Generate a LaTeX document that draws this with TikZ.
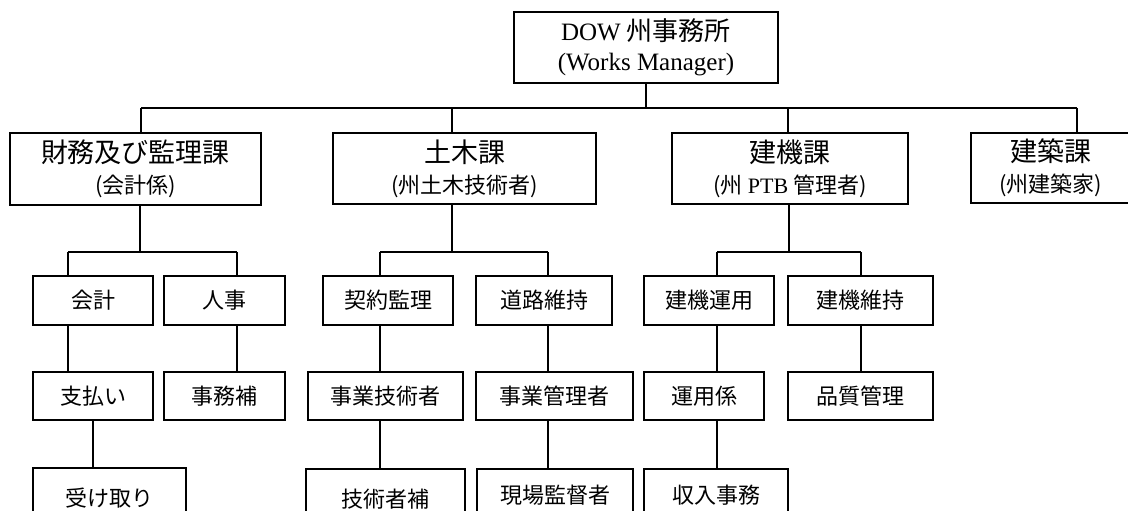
\documentclass[tikz,border=0pt]{standalone}
\usepackage{fontspec}
\setmainfont{Liberation Serif}
\newfontfamily\cjk{Noto Sans CJK JP}
\begin{document}
\begin{tikzpicture}[x=1pt,y=-1pt,
  box/.style={draw, line width=1.6pt, inner sep=0pt, align=center},
  conn/.style={line width=1.6pt},
  head/.style={font=\cjk\fontsize{27}{33}\selectfont},
  small/.style={font=\cjk\fontsize{22}{26}\selectfont},
]
\useasboundingbox (0,0) rectangle (1128,511);
% top
\node[box, minimum width=264pt, minimum height=71pt, font=\fontsize{25}{30}\selectfont] (top) at (646,47.5)
  {DOW {\cjk\fontsize{26}{30}\selectfont 州事務所}\\ (Works Manager)};
% level 1
\node[box, minimum width=251pt, minimum height=72pt, head] (fin) at (135.5,169)
  {財務及び監理課\\[-2pt]{\fontsize{22}{26}\selectfont (会計係)}};
\node[box, minimum width=263pt, minimum height=71pt, head] (civ) at (464.5,168.5)
  {土木課\\[-2pt]{\fontsize{22}{26}\selectfont (州土木技術者)}};
\node[box, minimum width=236pt, minimum height=71pt, head] (mech) at (790,168.5)
  {建機課\\[-2pt]{\fontsize{22}{26}\selectfont (州 {\rmfamily PTB} 管理者)}};
\node[box, minimum width=159pt, minimum height=70pt, head] (arch) at (1050.5,168)
  {建築課\\[-2pt]{\fontsize{22}{26}\selectfont (州建築家)}};
% level 2
\node[box, small, minimum width=120pt, minimum height=49pt] (acc) at (93,300.5) {会計};
\node[box, small, minimum width=121pt, minimum height=49pt] (hr) at (224.5,300.5) {人事};
\node[box, small, minimum width=130pt, minimum height=49pt] (con) at (388,300.5) {契約監理};
\node[box, small, minimum width=136pt, minimum height=49pt] (road) at (544,300.5) {道路維持};
\node[box, small, minimum width=130pt, minimum height=49pt] (mop) at (709,300.5) {建機運用};
\node[box, small, minimum width=145pt, minimum height=49pt] (mmt) at (860.5,300.5) {建機維持};
% level 3
\node[box, small, minimum width=120pt, minimum height=48pt] (pay) at (93,396) {支払い};
\node[box, small, minimum width=121pt, minimum height=48pt] (clerk) at (224.5,396) {事務補};
\node[box, small, minimum width=155pt, minimum height=48pt] (peng) at (385.5,396) {事業技術者};
\node[box, small, minimum width=157pt, minimum height=48pt] (pman) at (554.5,396) {事業管理者};
\node[box, small, minimum width=120pt, minimum height=48pt] (opc) at (704,396) {運用係};
\node[box, small, minimum width=145pt, minimum height=48pt] (qc) at (860.5,396) {品質管理};
% level 4 (cut by the page edge)
\node[box, small, minimum width=153pt, minimum height=60pt, anchor=north] (rec) at (109.5,467) {受け取り};
\node[box, small, minimum width=159pt, minimum height=60pt, anchor=north] (aeng) at (385.5,468) {技術者補};
\node[box, small, minimum width=156pt, minimum height=60pt, anchor=north] (sup) at (555,468) {\raisebox{10pt}{現場監督者}};
\node[box, small, minimum width=144pt, minimum height=60pt, anchor=north] (rev) at (716,468) {\raisebox{9pt}{収入事務}};
% main bus
\coordinate (hL) at (141,108);
\coordinate (hC) at (452,108);
\coordinate (hM) at (788,108);
\coordinate (hR) at (1077,108);
\draw[conn] (top.south) -- (top.south |- hL);
\draw[conn] (hL) -- (hR);
\draw[conn] (hL) -- (hL |- fin.north);
\draw[conn] (hC) -- (hC |- civ.north);
\draw[conn] (hM) -- (hM |- mech.north);
\draw[conn] (hR) -- (hR |- arch.north);
% finance
\coordinate (fM) at (140,252);
\coordinate (fA) at (68,252);
\coordinate (fB) at (237,252);
\draw[conn] (fM |- fin.south) -- (fM);
\draw[conn] (fA) -- (fB);
\draw[conn] (fA) -- (fA |- acc.north);
\draw[conn] (fB) -- (fB |- hr.north);
\draw[conn] (fA |- acc.south) -- (fA |- pay.north);
\draw[conn] (fB |- hr.south) -- (fB |- clerk.north);
\draw[conn] (pay.south) -- (pay.south |- rec.north);
% civil
\coordinate (cM) at (452,252);
\coordinate (cA) at (380,252);
\coordinate (cB) at (548,252);
\draw[conn] (cM |- civ.south) -- (cM);
\draw[conn] (cA) -- (cB);
\draw[conn] (cA) -- (cA |- con.north);
\draw[conn] (cB) -- (cB |- road.north);
\draw[conn] (cA |- con.south) -- (cA |- peng.north);
\draw[conn] (cB |- road.south) -- (cB |- pman.north);
\draw[conn] (cA |- peng.south) -- (cA |- aeng.north);
\draw[conn] (cB |- pman.south) -- (cB |- sup.north);
% mechanical
\coordinate (mM) at (789,252);
\coordinate (mA) at (717,252);
\coordinate (mB) at (861,252);
\draw[conn] (mM |- mech.south) -- (mM);
\draw[conn] (mA) -- (mB);
\draw[conn] (mA) -- (mA |- mop.north);
\draw[conn] (mB) -- (mB |- mmt.north);
\draw[conn] (mA |- mop.south) -- (mA |- opc.north);
\draw[conn] (mB |- mmt.south) -- (mB |- qc.north);
\draw[conn] (mA |- opc.south) -- (mA |- rev.north);
\end{tikzpicture}
\end{document}
